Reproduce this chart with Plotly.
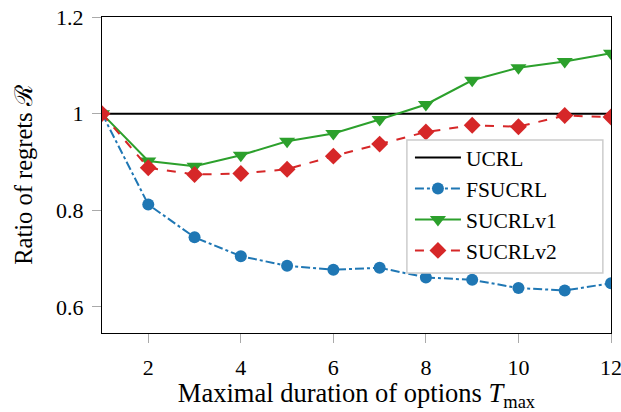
import plotly.graph_objects as go

t_max = [1, 2, 3, 4, 5, 6, 7, 8, 9, 10, 11, 12]
ucrl = [1.0] * 12
fsucrl = [1.0, 0.812, 0.744, 0.705, 0.685, 0.677, 0.681, 0.661, 0.656, 0.639, 0.634, 0.649]
sucrl_v1 = [1.0, 0.902, 0.891, 0.914, 0.943, 0.959, 0.988, 1.019, 1.069, 1.095, 1.108, 1.125]
sucrl_v2 = [1.0, 0.888, 0.874, 0.876, 0.885, 0.912, 0.937, 0.962, 0.976, 0.973, 0.996, 0.993]

x_ticks = [2, 4, 6, 8, 10, 12]
y_ticks = [0.6, 0.8, 1.0, 1.2]
y_tick_labels = ["0.6", "0.8", "1", "1.2"]

FONT = "Liberation Serif"

fig = go.Figure()
fig.add_trace(go.Scatter(x=t_max, y=ucrl, mode="lines", name="UCRL",
                         line=dict(color="black", width=2)))
fig.add_trace(go.Scatter(x=t_max, y=fsucrl, mode="lines+markers", name="FSUCRL",
                         line=dict(color="#1f77b4", width=2, dash="dashdot"),
                         marker=dict(symbol="circle", size=12, color="#1f77b4")))
fig.add_trace(go.Scatter(x=t_max, y=sucrl_v1, mode="lines+markers", name="SUCRLv1",
                         line=dict(color="#2ca02c", width=2),
                         marker=dict(symbol="triangle-down", size=14, color="#2ca02c")))
fig.add_trace(go.Scatter(x=t_max, y=sucrl_v2, mode="lines+markers", name="SUCRLv2",
                         line=dict(color="#d62728", width=2, dash="dash"),
                         marker=dict(symbol="diamond", size=13, color="#d62728")))

# legend frame (drawn as a shape so its size can match the reference)
fig.add_shape(type="rect", xref="paper", yref="paper",
              x0=0.599, x1=0.984, y0=0.190, y1=0.611,
              fillcolor="white", line=dict(color="#cccccc", width=1.5),
              layer="above")

fig.update_layout(
    width=621, height=412,
    margin=dict(l=102, r=10, t=17, b=79, autoexpand=False),
    paper_bgcolor="white", plot_bgcolor="white",
    font=dict(family=FONT, size=22, color="black"),
    showlegend=True,
    legend=dict(x=0.605, y=0.62, xanchor="left", yanchor="top",
                bgcolor="rgba(0,0,0,0)", borderwidth=0,
                font=dict(family=FONT, size=21.5), tracegroupgap=0,
                itemwidth=46, itemsizing="trace"),
)
fig.update_xaxes(range=[1, 12], tickvals=x_ticks, ticks="outside", ticklen=9,
                 tickcolor="#aaaaaa", tickwidth=1, showgrid=False, zeroline=False,
                 showline=True, linecolor="black", linewidth=1.2, mirror=True,
                 tickfont=dict(size=22), ticklabeloverflow="allow",
                 ticklabelstandoff=5,
                 title=dict(text="Maximal duration of options <i>T</i><sub>max</sub>",
                            font=dict(size=26.5), standoff=9))
fig.update_yaxes(range=[0.546, 1.2], tickvals=y_ticks, ticktext=y_tick_labels,
                 ticks="outside", ticklen=9, tickcolor="#aaaaaa", tickwidth=1,
                 showgrid=False, zeroline=False,
                 showline=True, linecolor="black", linewidth=1.2, mirror=True,
                 tickfont=dict(size=22), ticklabeloverflow="allow",
                 ticklabelstandoff=4,
                 title=dict(text="Ratio of regrets ℛ", font=dict(size=24.5), standoff=16))

fig.write_html("out.html", config={"displayModeBar": False},
               post_script="document.body.style.margin='0px';")
